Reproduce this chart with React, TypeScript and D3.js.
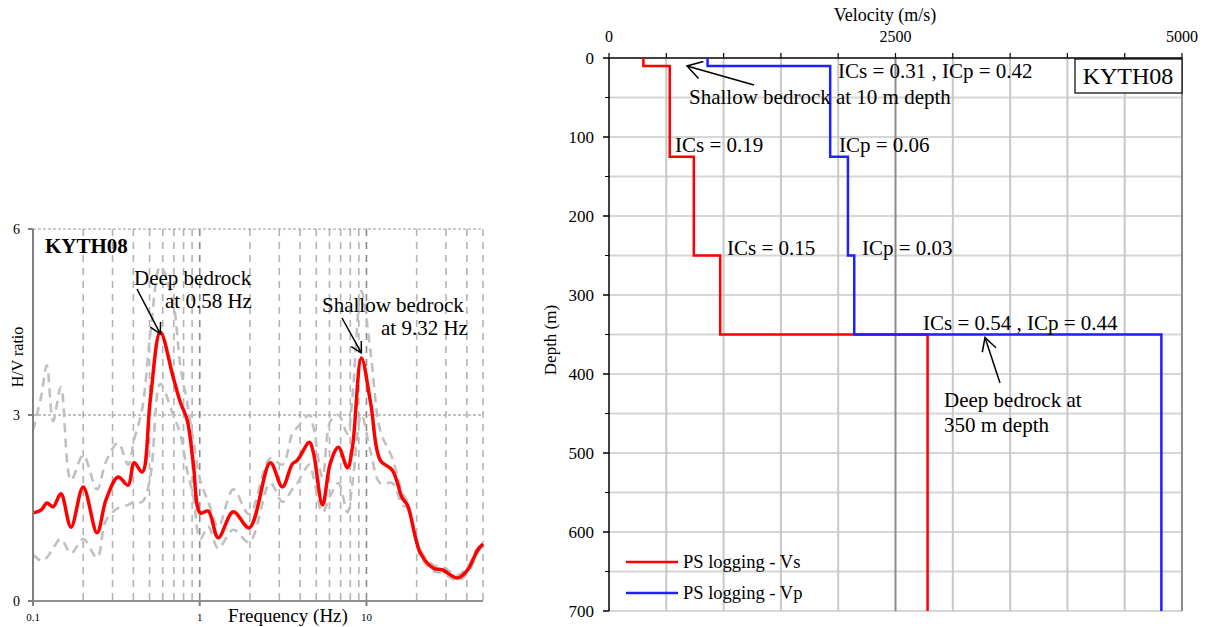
import React from "react";
import * as d3 from "d3";

// ---------- H/V spectral ratio (left panel) ----------
const hvFreq = [0.1, 0.112, 0.121, 0.132, 0.147, 0.169, 0.2, 0.242, 0.274, 0.324, 0.372, 0.404, 0.452, 0.505, 0.58, 0.693, 0.764, 0.841, 0.914, 1.007, 1.125, 1.29, 1.59, 1.98, 2.65, 3.13, 3.59, 3.85, 4.55, 4.81, 5.45, 6.08, 6.79, 7.69, 8.24, 9.32, 10.6, 12.1, 14.3, 16.4, 17.6, 21.1, 25.2, 28.6, 35.2, 40.4, 46.4, 50];
const hvMean = [1.42, 1.47, 1.58, 1.52, 1.73, 1.19, 1.84, 1.1, 1.63, 2.0, 1.87, 2.23, 2.08, 3.24, 4.34, 3.61, 3.21, 2.92, 2.23, 1.42, 1.45, 1.02, 1.44, 1.18, 2.23, 1.84, 2.21, 2.27, 2.56, 2.39, 1.55, 2.23, 2.48, 2.15, 2.48, 3.92, 3.19, 2.27, 2.11, 1.66, 1.55, 0.77, 0.53, 0.5, 0.37, 0.5, 0.82, 0.92];
const hvUpper = [2.75, 3.3, 3.8, 2.9, 3.45, 1.95, 2.35, 1.8, 2.25, 2.55, 2.2, 2.6, 3.1, 4.3, 5.4, 4.8, 3.8, 3.2, 2.6, 1.95, 1.6, 1.2, 1.8, 1.4, 2.3, 2.2, 2.7, 2.8, 3.0, 2.8, 2.0, 2.9, 3.0, 2.7, 3.3, 5.0, 4.0, 2.75, 2.3, 1.75, 1.6, 0.82, 0.58, 0.55, 0.42, 0.55, 0.86, 0.95];
const hvLower = [0.75, 0.65, 0.7, 0.85, 1.0, 0.77, 1.0, 0.7, 1.3, 1.5, 1.55, 1.6, 1.6, 2.0, 3.5, 3.0, 2.7, 2.1, 1.7, 1.0, 1.2, 0.85, 1.15, 0.95, 1.9, 1.6, 1.8, 1.9, 2.2, 2.0, 1.43, 1.7, 1.9, 1.43, 1.9, 3.0, 2.4, 1.9, 1.9, 1.55, 1.5, 0.72, 0.48, 0.45, 0.33, 0.45, 0.78, 0.9];
const hvYTicks = [0, 3, 6];
const hvXTicks = [0.1, 1, 10];
const hvGridFreqs = [0.2, 0.3, 0.4, 0.5, 0.6, 0.7, 0.8, 0.9, 1, 2, 3, 4, 5, 6, 7, 8, 9, 10, 20, 30, 40, 50];

// ---------- PS logging profile (right panel) ----------
const layerTops = [0, 10, 125, 250, 350];
const layerBottoms = [10, 125, 250, 350, 700];
const vsValues = [300, 530, 740, 970, 2780];
const vpValues = [860, 1930, 2085, 2140, 4820];
const velTicks = [0, 2500, 5000];
const velGrid = [500, 1000, 1500, 2000, 2500, 3000, 3500, 4000, 4500, 5000];
const depthTicks = [0, 100, 200, 300, 400, 500, 600, 700];
const depthMinor = [50, 150, 250, 350, 450, 550, 650];

const FONT = "'Liberation Serif', 'Times New Roman', serif";

function arrowHead(x1: number, y1: number, x2: number, y2: number, len = 15, ang = 0.42) {
  const a = Math.atan2(y1 - y2, x1 - x2);
  const p1 = [x2 + len * Math.cos(a + ang), y2 + len * Math.sin(a + ang)];
  const p2 = [x2 + len * Math.cos(a - ang), y2 + len * Math.sin(a - ang)];
  return `M${p1[0]},${p1[1]} L${x2},${y2} L${p2[0]},${p2[1]}`;
}

function HVPanel() {
  const x = d3.scaleLog().domain([0.1, 50]).range([33, 483]);
  const y = d3.scaleLinear().domain([0, 6]).range([601, 229]);
  const line = (vals: number[]) =>
    d3.line<number>()
      .x((_, i) => x(hvFreq[i]))
      .y((v) => y(v))
      .curve(d3.curveCatmullRom.alpha(0.5))(vals) || "";
  const deep = { x1: 137, y1: 289, x2: x(0.58), y2: y(hvMean[14]) + 2 };
  const shallow = { x1: 342, y1: 318, x2: x(9.32), y2: y(hvMean[35]) - 5 };
  return (
    <g>
      {hvGridFreqs.map((f) => (
        <line key={f} x1={x(f)} x2={x(f)} y1={y(6)} y2={y(0)}
          stroke={f === 1 || f === 10 ? "#8a8a8a" : "#b4b4b4"} strokeWidth={1.6}
          strokeDasharray="7,6" />
      ))}
      <line x1={x(0.1)} x2={x(50)} y1={y(3)} y2={y(3)} stroke="#8a8a8a" strokeWidth={1} strokeDasharray="3,2" />
      <line x1={x(0.1)} x2={x(50)} y1={y(6)} y2={y(6)} stroke="#9a9a9a" strokeWidth={1} strokeDasharray="3,2" />
      <path d={line(hvUpper)} fill="none" stroke="#c0c0c0" strokeWidth={2.6} strokeDasharray="9,6" />
      <path d={line(hvLower)} fill="none" stroke="#c0c0c0" strokeWidth={2.6} strokeDasharray="9,6" />
      <path d={line(hvMean)} fill="none" stroke="#ff0000" strokeWidth={3.5} />
      {/* axes */}
      <line x1={x(0.1)} x2={x(0.1)} y1={y(6)} y2={y(0)} stroke="#808080" strokeWidth={2} />
      <line x1={x(0.1)} x2={x(50)} y1={y(0)} y2={y(0)} stroke="#909090" strokeWidth={2} />
      {hvYTicks.map((t) => (
        <g key={t}>
          <line x1={x(0.1) - 5} x2={x(0.1)} y1={y(t)} y2={y(t)} stroke="#808080" strokeWidth={2} />
          <text x={20} y={y(t) + 5} textAnchor="end" fontSize={14} fontFamily={FONT}>{t}</text>
        </g>
      ))}
      {hvXTicks.map((t) => (
        <g key={t}>
          <line x1={x(t)} x2={x(t)} y1={y(0)} y2={y(0) + 5} stroke="#808080" strokeWidth={2} />
          <text x={x(t)} y={621} textAnchor="middle" fontSize={11} fontFamily={FONT}>{t}</text>
        </g>
      ))}
      <text x={288} y={622} textAnchor="middle" fontSize={19} fontFamily={FONT}>Frequency (Hz)</text>
      <text transform="translate(23,357) rotate(-90)" textAnchor="middle" fontSize={16} fontFamily={FONT}>H/V ratio</text>
      <text x={45} y={253} fontSize={21} fontWeight="bold" fontFamily={FONT}>KYTH08</text>
      <text x={134} y={285} fontSize={21} fontFamily={FONT}>Deep bedrock</text>
      <text x={165} y={308} fontSize={21} fontFamily={FONT}>at 0.58 Hz</text>
      <line x1={deep.x1} y1={deep.y1} x2={deep.x2} y2={deep.y2} stroke="#000" strokeWidth={1.5} />
      <path d={arrowHead(deep.x1, deep.y1, deep.x2, deep.y2, 12, 0.5)} fill="none" stroke="#000" strokeWidth={1.5} />
      <text x={322} y={312} fontSize={21} fontFamily={FONT}>Shallow bedrock</text>
      <text x={381} y={335} fontSize={21} fontFamily={FONT}>at 9.32 Hz</text>
      <line x1={shallow.x1} y1={shallow.y1} x2={shallow.x2} y2={shallow.y2} stroke="#000" strokeWidth={1.5} />
      <path d={arrowHead(shallow.x1, shallow.y1, shallow.x2, shallow.y2, 12, 0.5)} fill="none" stroke="#000" strokeWidth={1.5} />
    </g>
  );
}

function ProfilePanel() {
  const x = d3.scaleLinear().domain([0, 5000]).range([609, 1182]);
  const y = d3.scaleLinear().domain([0, 700]).range([58, 611]);
  const stepPath = (vals: number[]) => {
    const pts: [number, number][] = [];
    vals.forEach((v, i) => {
      pts.push([v, layerTops[i]]);
      pts.push([v, layerBottoms[i]]);
    });
    return d3.line<[number, number]>().x((p) => x(p[0])).y((p) => y(p[1]))(pts) || "";
  };
  const shallowArrow = { x1: 754, y1: 85, x2: 687, y2: 66 };
  const deepArrow = { x1: 1000, y1: 383, x2: 985, y2: y(350) + 3 };
  return (
    <g>
      {[...depthTicks.slice(1), ...depthMinor].map((d) => (
        <line key={"h" + d} x1={x(0)} x2={x(5000)} y1={y(d)} y2={y(d)} stroke="#d6d6d6" strokeWidth={2} />
      ))}
      {velGrid.map((v) => (
        <line key={"v" + v} x1={x(v)} x2={x(v)} y1={y(0)} y2={y(700)}
          stroke={v === 2500 || v === 5000 ? "#8c8c8c" : "#c8c8c8"} strokeWidth={2} />
      ))}
      {/* axes */}
      <line x1={x(0)} x2={x(5000)} y1={y(0)} y2={y(0)} stroke="#000" strokeWidth={1.5} />
      <line x1={x(0)} x2={x(0)} y1={y(0)} y2={y(700)} stroke="#000" strokeWidth={1.5} />
      {[0, ...velGrid].map((v) => (
        <line key={"t" + v} x1={x(v)} x2={x(v)} y1={y(0) - 5} y2={y(0)} stroke="#000" strokeWidth={1.2} />
      ))}
      {velTicks.map((v) => (
        <text key={v} x={x(v)} y={42} textAnchor="middle" fontSize={16} fontFamily={FONT}>{v}</text>
      ))}
      <text x={885} y={21} textAnchor="middle" fontSize={18} fontFamily={FONT}>Velocity (m/s)</text>
      {depthTicks.map((d) => (
        <g key={"d" + d}>
          <line x1={x(0) - 6} x2={x(0)} y1={y(d)} y2={y(d)} stroke="#000" strokeWidth={1.5} />
          <text x={x(0) - 15} y={y(d) + 6} textAnchor="end" fontSize={17} fontFamily={FONT}>{d}</text>
        </g>
      ))}
      {depthMinor.map((d) => (
        <line key={"m" + d} x1={x(0) - 4} x2={x(0)} y1={y(d)} y2={y(d)} stroke="#000" strokeWidth={1} />
      ))}
      <text transform="translate(556,340) rotate(-90)" textAnchor="middle" fontSize={17} fontFamily={FONT}>Depth (m)</text>
      {/* profiles */}
      <path d={stepPath(vsValues)} fill="none" stroke="#ff0000" strokeWidth={2.5} />
      <path d={stepPath(vpValues)} fill="none" stroke="#2020ff" strokeWidth={2.5} />
      {/* annotations */}
      <text x={838} y={78} fontSize={21} fontFamily={FONT}>ICs = 0.31 , ICp = 0.42</text>
      <text x={689} y={104} fontSize={21} fontFamily={FONT}>Shallow bedrock at 10 m depth</text>
      <line x1={shallowArrow.x1} y1={shallowArrow.y1} x2={shallowArrow.x2} y2={shallowArrow.y2} stroke="#000" strokeWidth={1.5} />
      <path d={arrowHead(shallowArrow.x1, shallowArrow.y1, shallowArrow.x2, shallowArrow.y2, 17, 0.55)} fill="none" stroke="#000" strokeWidth={1.5} />
      <text x={675} y={152} fontSize={21} fontFamily={FONT}>ICs = 0.19</text>
      <text x={839} y={152} fontSize={21} fontFamily={FONT}>ICp = 0.06</text>
      <text x={727} y={255} fontSize={21} fontFamily={FONT}>ICs = 0.15</text>
      <text x={862} y={255} fontSize={21} fontFamily={FONT}>ICp = 0.03</text>
      <text x={923} y={330} fontSize={21} fontFamily={FONT}>ICs = 0.54 , ICp = 0.44</text>
      <line x1={deepArrow.x1} y1={deepArrow.y1} x2={deepArrow.x2} y2={deepArrow.y2} stroke="#000" strokeWidth={1.5} />
      <path d={arrowHead(deepArrow.x1, deepArrow.y1, deepArrow.x2, deepArrow.y2, 15, 0.5)} fill="none" stroke="#000" strokeWidth={1.5} />
      <text x={944} y={407} fontSize={21} fontFamily={FONT}>Deep bedrock at</text>
      <text x={944} y={432} fontSize={21} fontFamily={FONT}>350 m depth</text>
      {/* station label */}
      <rect x={1075} y={59} width={107} height={34} fill="#fff" stroke="#000" strokeWidth={1.2} />
      <text x={1128} y={84} textAnchor="middle" fontSize={24} fontFamily={FONT}>KYTH08</text>
      {/* legend */}
      <line x1={626} x2={678} y1={562} y2={562} stroke="#ff0000" strokeWidth={2.5} />
      <text x={683} y={568} fontSize={18.5} fontFamily={FONT}>PS logging - Vs</text>
      <line x1={626} x2={678} y1={593} y2={593} stroke="#2020ff" strokeWidth={2.5} />
      <text x={683} y={599} fontSize={18.5} fontFamily={FONT}>PS logging - Vp</text>
    </g>
  );
}

export default function App() {
  return (
    <svg width={1213} height={627} style={{ position: "absolute", left: 0, top: 0, background: "#fff" }}>
      <rect width={1213} height={627} fill="#fff" />
      <HVPanel />
      <ProfilePanel />
    </svg>
  );
}
